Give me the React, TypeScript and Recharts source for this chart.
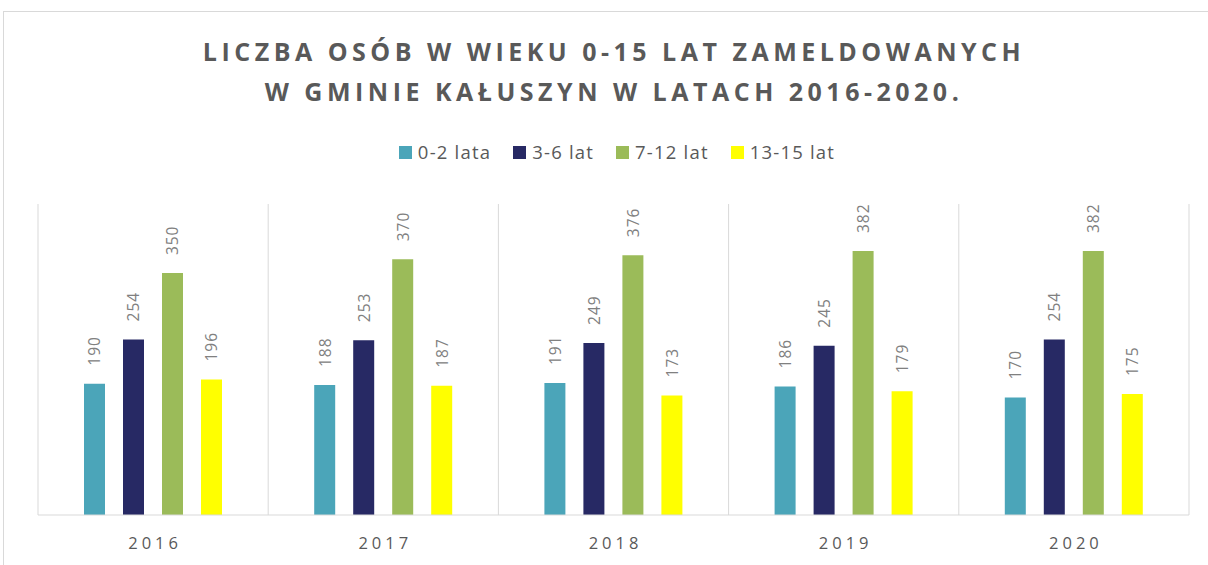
import React from "react";
import { BarChart, Bar, XAxis, YAxis, CartesianGrid, LabelList } from "recharts";

const years = ["2016", "2017", "2018", "2019", "2020"];
const age02 = [190, 188, 191, 186, 170];
const age36 = [254, 253, 249, 245, 254];
const age712 = [350, 370, 376, 382, 382];
const age1315 = [196, 187, 173, 179, 175];

const seriesNames = ["0-2 lata", "3-6 lat", "7-12 lat", "13-15 lat"];
const seriesKeys = ["a", "b", "c", "d"];
const seriesColors = ["#4BA5B9", "#272964", "#9BBB59", "#FFFF00"];
const titleLines = [
  "LICZBA OSÓB W WIEKU 0-15 LAT ZAMELDOWANYCH",
  "W GMINIE KAŁUSZYN W LATACH 2016-2020.",
];

const data = years.map((y, i) => ({
  year: y,
  a: age02[i],
  b: age36[i],
  c: age712[i],
  d: age1315[i],
}));

const FONT = "'Open Sans', 'Noto Sans', sans-serif";

const RotLabel = (props: any) => {
  const { x, y, width, value } = props;
  const cx = x + width / 2;
  const ty = y - 18;
  return (
    <text
      x={cx}
      y={ty}
      transform={`rotate(-90 ${cx} ${ty})`}
      textAnchor="start"
      dominantBaseline="central"
      fill="#808080"
      fontSize={15.5}
      letterSpacing={1}
      fontFamily={FONT}
    >
      {value}
    </text>
  );
};

const Tick = (props: any) => {
  const { x, y, payload } = props;
  return (
    <text
      x={x + 2}
      y={y + 26}
      textAnchor="middle"
      fill="#595959"
      fontSize={16.5}
      fontFamily={FONT}
      letterSpacing={4}
    >
      {payload.value}
    </text>
  );
};

export default function App() {
  return (
    <div
      style={{
        position: "absolute",
        left: 0,
        top: 0,
        width: 1208,
        height: 565,
        overflow: "hidden",
        background: "#fff",
      }}
    >
      <div
        style={{
          position: "absolute",
          left: 3,
          top: 11,
          width: 1400,
          height: 800,
          borderTop: "1px solid #D9D9D9",
          borderLeft: "1px solid #D9D9D9",
        }}
      />
      {titleLines.map((t, i) => (
        <div
          key={i}
          style={{
            position: "absolute",
            left: 0,
            width: 1228,
            top: 33 + i * 40,
            textAlign: "center",
            fontFamily: FONT,
            fontWeight: 700,
            fontSize: 25,
            letterSpacing: 4.5,
            color: "#595959",
            lineHeight: "36px",
            whiteSpace: "nowrap",
          }}
        >
          {t}
        </div>
      ))}
      <div
        style={{
          position: "absolute",
          left: 0,
          width: 1234,
          top: 140,
          display: "flex",
          justifyContent: "center",
          fontFamily: FONT,
          fontSize: 18.5,
          letterSpacing: 1.2,
          color: "#595959",
          lineHeight: "24px",
        }}
      >
        {seriesNames.map((n, i) => (
          <div key={n} style={{ display: "flex", alignItems: "center", marginRight: i < 3 ? 22 : 0 }}>
            <span
              style={{
                display: "inline-block",
                width: 13,
                height: 13,
                background: seriesColors[i],
                marginRight: 6,
              }}
            />
            <span>{n}</span>
          </div>
        ))}
      </div>
      <div style={{ position: "absolute", left: 0, top: 0 }}>
        <BarChart
          width={1208}
          height={565}
          data={data}
          margin={{ top: 204, right: 19, left: 38, bottom: 20 }}
          barSize={21}
          barGap={18}
        >
          <CartesianGrid
            horizontal={false}
            stroke="#D9D9D9"
            verticalCoordinatesGenerator={({ offset }: any) =>
              years.map((_, i) => offset.left + (i * offset.width) / years.length).concat([offset.left + offset.width])
            }
          />
          <XAxis
            dataKey="year"
            axisLine={{ stroke: "#D9D9D9" }}
            tickLine={false}
            tick={<Tick />}
            interval={0}
          />
          <YAxis hide domain={[0, 450]} />
          {seriesKeys.map((k, i) => (
            <Bar key={k} dataKey={k} name={seriesNames[i]} fill={seriesColors[i]} isAnimationActive={false}>
              <LabelList dataKey={k} content={<RotLabel />} />
            </Bar>
          ))}
        </BarChart>
      </div>
    </div>
  );
}
